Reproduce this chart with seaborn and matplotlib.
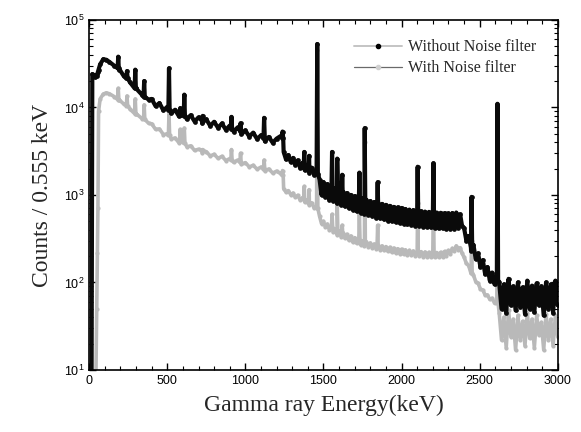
import numpy as np
import pandas as pd
import matplotlib
matplotlib.use("Agg")
import matplotlib.pyplot as plt
from matplotlib.lines import Line2D
from matplotlib.ticker import MultipleLocator, LogLocator, NullFormatter
import seaborn as sns

# Континуум спектра, keV / counts
energy_kev = [15, 20, 30, 40, 48, 52, 56, 60, 70, 90, 110, 130, 160, 190, 220, 260, 300, 340, 380,
              400, 425, 450, 475, 500, 525, 550, 575, 600, 625, 650, 675, 700, 725, 750, 775,
              800, 825, 850, 875, 900, 925, 950, 975, 1000, 1025, 1050, 1075, 1100, 1125, 1150,
              1175, 1200,
              1225,
              1245, 1260, 1275, 1290, 1305, 1320, 1335, 1350, 1365, 1380, 1395, 1410, 1425, 1440,
              1455,
              1475, 1487.5, 1500, 1512.5, 1525, 1537.5, 1550, 1562.5, 1575, 1587.5, 1600, 1612.5,
              1625, 1637.5, 1650, 1662.5, 1675, 1687.5, 1700, 1712.5, 1725, 1737.5, 1750, 1762.5,
              1775, 1787.5, 1800, 1812.5, 1825, 1837.5, 1850, 1862.5, 1875, 1887.5, 1900, 1912.5,
              1925, 1937.5, 1950, 1962.5, 1975, 1987.5, 2000, 2012.5, 2025, 2037.5, 2050, 2062.5,
              2075, 2087.5, 2100, 2112.5, 2125, 2137.5, 2150, 2162.5, 2175, 2187.5, 2200, 2212.5,
              2225, 2237.5, 2250, 2262.5, 2275, 2287.5, 2300, 2312.5, 2325, 2337.5, 2350, 2362.5,
              2375, 2387.5,
              2400, 2415, 2430, 2445, 2460, 2475, 2490, 2505, 2520, 2535, 2550, 2565, 2580, 2595,
              2607,
              2625, 2640, 2655, 2670, 2685, 2700, 2715, 2730, 2745, 2760, 2775, 2790, 2805, 2820,
              2835, 2850, 2865, 2880, 2895, 2910, 2925, 2940, 2955, 2970, 2985, 3000]

counts_without = [4, 24000, 23500, 22000, 23000, 24000, 25500, 27000, 31000, 35500, 35000, 33000,
                  30000, 27000, 23000, 19500, 16500, 13800, 12300,
                  12500, 10350, 11200, 9250, 10150, 8550, 9400, 7900, 8650, 7350, 8150, 6900,
                  7700, 6550, 7300, 6150, 6850, 5850, 6550, 5550, 6200, 5300, 5900, 4950,
                  5450, 4650, 5150, 4350, 4800, 4100, 4600, 3950, 4400,
                  4700,
                  3100, 2550, 2850, 2380, 2650, 2200, 2480, 2050, 2320, 1920, 2170, 1800, 2050, 1700,
                  1900,
                  1500, 1000, 1400, 950, 1330, 880, 1250, 850, 1200, 800, 1130, 770,
                  1080, 740, 1050, 710, 1000, 680, 970, 650, 940, 630, 910, 610,
                  880, 590, 850, 570, 830, 550, 800, 540, 790, 525, 770, 510,
                  750, 500, 730, 490, 720, 480, 710, 470, 690, 460, 680, 455,
                  670, 445, 665, 440, 650, 435, 645, 430, 640, 425, 635, 420,
                  630, 415, 625, 415, 620, 410, 615, 410, 620, 410, 630, 420,
                  600, 440,
                  420, 300, 340, 230, 270, 185, 215, 150, 180, 125, 150, 105, 130, 95,
                  110,
                  100, 50, 95, 45, 110, 55, 90, 48, 100, 52, 88, 44, 105, 50, 92, 46, 98, 55, 90,
                  42, 100, 50, 95, 45, 105, 55]

counts_with = [np.nan, np.nan, np.nan, 3, 50, 220, 700, 9000, 12500, 14200, 14700, 14300, 13300,
               12200, 11000, 9600, 8500, 7400, 6600,
               6500, 5620, 5670, 4900, 4990, 4380, 4470, 3940, 4060, 3560, 3640, 3220,
               3330, 2980, 3120, 2790, 2910, 2620, 2760, 2470, 2600, 2360, 2500, 2230,
               2340, 2090, 2180, 1970, 2080, 1880, 1980, 1780, 1870,
               1750,
               1180, 1080, 1120, 1010, 1050, 940, 990, 880, 930, 830, 870, 770, 810, 710,
               720,
               570, 470, 500, 430, 465, 400, 440, 375, 410, 350, 390, 335,
               370, 320, 355, 305, 340, 290, 325, 280, 310, 270, 300, 262,
               292, 255, 283, 248, 275, 242, 268, 237, 262, 232, 257, 227,
               252, 222, 247, 218, 243, 214, 240, 210, 236, 207, 232, 204,
               229, 202, 227, 200, 225, 198, 223, 196, 221, 195, 220, 194,
               220, 195, 221, 197, 226, 203, 232, 212, 245, 228, 262, 238,
               250, 215,
               195, 165, 155, 128, 122, 102, 98, 84, 82, 72, 72, 64, 66, 58,
               60,
               45, 22, 40, 18, 48, 24, 38, 17, 42, 22, 36, 19, 45, 23, 38, 18, 42, 25, 35, 17,
               44, 22, 38, 19, 42, 24]

# Гамма-піки
peak_kev = [186, 242, 295, 352, 511, 583, 609, 727, 911, 969, 1120, 1238, 1377, 1408, 1460,
            1555, 1588, 1620, 1730, 1764, 1847, 2103, 2204, 2448, 2614]
peak_without = [38000, 26000, 27000, 20000, 28000, 9800, 14000, 8000, 7800, 6600, 7600, 5300,
                3100, 2800, 53000, 3100, 2600, 1700, 1800, 5800, 1400, 2100, 2300, 950, 11000]
base_without = [28000, 21500, 16500, 13200, 9400, 8200, 8000, 7000, 5700, 5400, 4450, 4500,
                2050, 1950, 1750, 1100, 1000, 900, 750, 700, 620, 520, 500, 250, 105]
peak_with = [16500, 13500, 12500, 10700, 8400, 5600, 5800, 3300, 3300, 3000, 2500, 1900, 1250,
             1150, 45000, 600, 800, 450, 600, 4000, 450, 800, 900, 300, 9500]
base_with = [12300, 10500, 8500, 7300, 4800, 4100, 3900, 3200, 2500, 2350, 2000, 1700, 880, 810,
             700, 420, 390, 350, 300, 290, 258, 218, 212, 128, 58]


def build_series(cont, tops, bases):
    e = list(energy_kev)
    c = list(cont)
    for pk, top, base in zip(peak_kev, tops, bases):
        e += [pk - 4, pk, pk + 4]
        c += [base, top, base]
    df = pd.DataFrame({"energy": e, "counts": c}).dropna()
    return df.sort_values("energy", kind="stable").reset_index(drop=True)


df_without = build_series(counts_without, peak_without, base_without)
df_with = build_series(counts_with, peak_with, base_with)

sns.set_theme(style="ticks")
plt.rcParams["font.family"] = ["Liberation Sans", "DejaVu Sans"]
plt.rcParams["xtick.direction"] = "in"
plt.rcParams["ytick.direction"] = "in"

fig = plt.figure(figsize=(5.81, 4.32), dpi=100)
ax = fig.add_axes([0.1535, 0.1435, 0.8065, 0.8105])

sns.lineplot(data=df_with, x="energy", y="counts", ax=ax, estimator=None, sort=False,
             color="#b9b9b9", lw=2.6, marker="o", markersize=3, markeredgewidth=0)
sns.lineplot(data=df_without, x="energy", y="counts", ax=ax, estimator=None, sort=False,
             color="#0a0a0a", lw=3.0, marker="o", markersize=3.4, markeredgewidth=0)

ax.set_yscale("log")
ax.set_xlim(0, 3000)
ax.set_ylim(10, 1e5)
ax.xaxis.set_major_locator(MultipleLocator(500))
ax.xaxis.set_minor_locator(MultipleLocator(100))
ax.yaxis.set_major_locator(LogLocator(base=10, numticks=10))
ax.yaxis.set_minor_locator(LogLocator(base=10, subs=np.arange(2, 10), numticks=10))
ax.yaxis.set_minor_formatter(NullFormatter())
ax.tick_params(which="both", top=True, right=True, colors="black", labelsize=9)
ax.tick_params(which="major", length=5, width=1.0)
ax.tick_params(which="minor", length=3, width=0.8)
for s in ax.spines.values():
    s.set_color("black")
    s.set_linewidth(1.2)

ax.set_xlabel("Gamma ray Energy(keV)", family=["Liberation Serif", "DejaVu Serif"], fontsize=17,
              labelpad=6)
ax.set_ylabel("Counts / 0.555 keV", family=["Liberation Serif", "DejaVu Serif"], fontsize=17,
              labelpad=8)

handles = [
    Line2D([], [], color="#c4c4c4", lw=1.4, marker="o", markersize=3, markerfacecolor="black",
           markeredgecolor="black"),
    Line2D([], [], color="#6a6a6a", lw=0.9, marker="o", markersize=3, markerfacecolor="#d0d0d0",
           markeredgecolor="#d0d0d0"),
]
ax.legend(handles, ["Without Noise filter", "With Noise filter"], loc="upper right",
          bbox_to_anchor=(0.985, 0.985), frameon=False, handlelength=3.0, handletextpad=0.4,
          labelspacing=0.3, prop={"family": ["Liberation Serif", "DejaVu Serif"], "size": 11.5})

fig.savefig("out.png", dpi=100)
